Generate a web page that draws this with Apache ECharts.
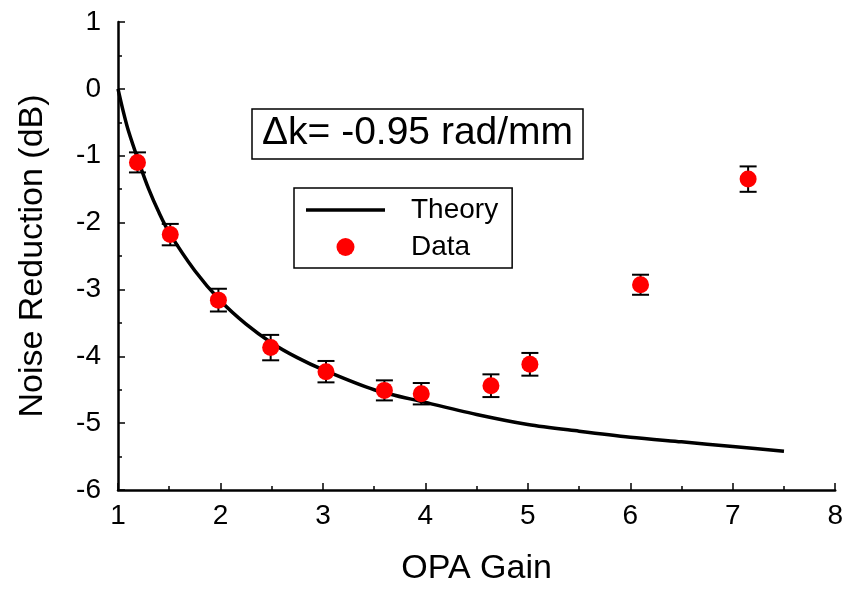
<!DOCTYPE html>
<html>
<head>
<meta charset="utf-8">
<script src="https://cdn.jsdelivr.net/npm/echarts@6/dist/echarts.min.js"></script>
<style>
  html, body { margin: 0; padding: 0; background: #fff; }
  #chart { width: 846px; height: 591px; }
</style>
</head>
<body>
<div id="chart"></div>
<script>
// theory curve
var theoryX = [1.0, 1.05, 1.1, 1.2, 1.3, 1.4, 1.5, 1.75, 2.0, 2.25, 2.5, 2.75, 3.0, 3.5, 4.0, 4.5, 5.0, 5.5, 6.0, 6.5, 7.0, 7.5];
var theoryY = [0, -0.33, -0.62, -1.08, -1.5, -1.85, -2.15, -2.72, -3.17, -3.52, -3.8, -4.02, -4.2, -4.5, -4.69, -4.87, -5.02, -5.12, -5.21, -5.28, -5.35, -5.42];

// measured points + error bar half heights
var dataX = [1.19, 1.51, 1.98, 2.49, 3.03, 3.6, 3.96, 4.64, 5.02, 6.1, 7.15];
var dataY = [-1.1, -2.18, -3.16, -3.87, -4.23, -4.51, -4.56, -4.44, -4.12, -2.93, -1.35];
var dataErr = [0.15, 0.16, 0.17, 0.19, 0.16, 0.15, 0.16, 0.17, 0.17, 0.15, 0.19];

var xTicks = [1, 2, 3, 4, 5, 6, 7, 8];
var yTicks = [-6, -5, -4, -3, -2, -1, 0, 1];

var font = 'Liberation Sans, Arial, sans-serif';

var theory = theoryX.map(function (x, i) { return [x, theoryY[i]]; });
var points = dataX.map(function (x, i) { return [x, dataY[i]]; });
var bars = dataX.map(function (x, i) { return [x, dataY[i] - dataErr[i], dataY[i] + dataErr[i]]; });

var myChart = echarts.init(document.getElementById('chart'));
var options = {
  animation: false,
  backgroundColor: '#fff',
  textStyle: { fontFamily: font },
  title: {
    text: 'Δk= -0.95 rad/mm',
    left: 252, top: 109,
    borderColor: '#000', borderWidth: 1.5,
    padding: [5, 10, 6, 10],
    textStyle: { fontFamily: font, fontSize: 39, fontWeight: 'normal', color: '#000' }
  },
  legend: {
    orient: 'vertical',
    left: 294, top: 188,
    padding: [8, 14, 7, 12],
    itemGap: 9,
    itemWidth: 79, itemHeight: 18,
    borderColor: '#000', borderWidth: 1.5,
    textStyle: { fontFamily: font, fontSize: 28, color: '#000', padding: [0, 0, 0, 21] },
    data: [
      { name: 'Theory', icon: 'path://M0,0 L79,0 L79,3.5 L0,3.5 Z', itemStyle: { color: '#000' } },
      { name: 'Data', icon: 'circle' }
    ]
  },
  grid: { left: 118, right: 8, top: 22, bottom: 100 },
  xAxis: {
    type: 'value', min: 1, max: 8, interval: 1,
    name: 'OPA Gain', nameLocation: 'middle', nameGap: 62,
    nameTextStyle: { fontFamily: font, fontSize: 34, color: '#000' },
    axisLine: { onZero: false, lineStyle: { color: '#000', width: 2.5 } },
    axisTick: { inside: true, length: 7, lineStyle: { color: '#000', width: 1.5 } },
    minorTick: { show: true, splitNumber: 2, length: 4, lineStyle: { color: '#000', width: 1.5 } },
    axisLabel: {
      margin: 12, fontSize: 28, color: '#000', fontFamily: font,
      formatter: function (v) { return xTicks.indexOf(v) >= 0 ? String(v) : ''; }
    },
    splitLine: { show: false }
  },
  yAxis: {
    type: 'value', min: -6, max: 1, interval: 1,
    name: 'Noise Reduction (dB)', nameLocation: 'middle', nameGap: 68,
    nameTextStyle: { fontFamily: font, fontSize: 34, color: '#000' },
    axisLine: { onZero: false, lineStyle: { color: '#000', width: 2.5 } },
    axisTick: { inside: true, length: 7, lineStyle: { color: '#000', width: 1.5 } },
    minorTick: { show: true, splitNumber: 2, length: 4, lineStyle: { color: '#000', width: 1.5 } },
    axisLabel: {
      margin: 17, fontSize: 28, color: '#000', fontFamily: font,
      formatter: function (v) { return yTicks.indexOf(v) >= 0 ? String(v) : ''; }
    },
    splitLine: { show: false }
  },
  series: [
    {
      name: 'Theory', type: 'line', data: theory,
      smooth: 0.3, symbol: 'none', z: 2,
      lineStyle: { color: '#000', width: 3.5 },
      itemStyle: { color: '#000' }
    },
    {
      name: 'ErrorBars', type: 'custom', data: bars, z: 3,
      renderItem: function (params, api) {
        var x = api.value(0);
        var lo = api.coord([x, api.value(1)]);
        var hi = api.coord([x, api.value(2)]);
        var half = 8.5;
        var st = { stroke: '#000', lineWidth: 2 };
        return {
          type: 'group',
          children: [
            { type: 'line', shape: { x1: lo[0], y1: lo[1], x2: hi[0], y2: hi[1] }, style: st },
            { type: 'line', shape: { x1: lo[0] - half, y1: lo[1], x2: lo[0] + half, y2: lo[1] }, style: st },
            { type: 'line', shape: { x1: hi[0] - half, y1: hi[1], x2: hi[0] + half, y2: hi[1] }, style: st }
          ]
        };
      }
    },
    {
      name: 'Data', type: 'scatter', data: points, z: 4,
      symbol: 'circle', symbolSize: 17,
      itemStyle: { color: '#ff0000', opacity: 1 }
    }
  ]
};
myChart.setOption(options);
</script>
</body>
</html>
